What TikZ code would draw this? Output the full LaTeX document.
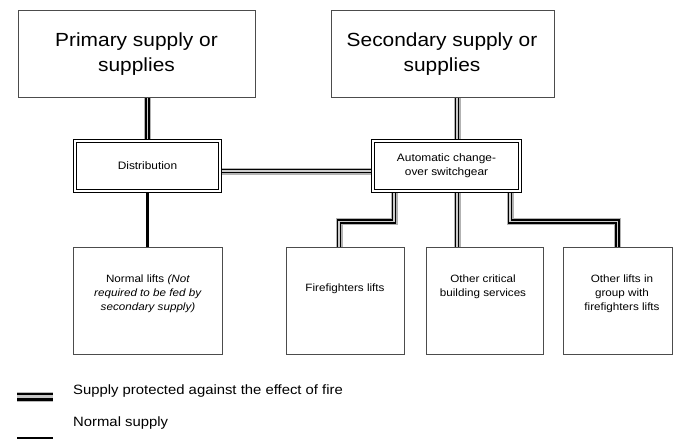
\documentclass[tikz,border=0pt]{standalone}
\usepackage{fontspec}
\setmainfont{Liberation Sans}[FakeStretch=1.1]
\usetikzlibrary{backgrounds}
\begin{document}
\begin{tikzpicture}[x=1pt,y=-1pt,
  box/.style={draw=black!70, line width=0.9pt, fill=white, inner sep=0pt},
  dbox/.style={draw=black, double=white, double distance=1.6pt, line width=1.1pt, fill=white, inner sep=0pt, align=center, font=\fontsize{10.8}{14}\selectfont},
  bigtext/.style={align=center, font=\fontsize{19}{25}\selectfont},
  smalltext/.style={align=center, font=\fontsize{10.6}{14.3}\selectfont, anchor=north, inner sep=0pt},
  legtext/.style={anchor=west, font=\fontsize{13.5}{16}\selectfont, inner sep=0pt},
  protected/.style={line width=4.4pt, black, line join=miter,
    preaction={draw, gray!60, line width=7pt},
    postaction={draw, gray!40, line width=1.4pt}},
  legprotected/.style={line width=8pt, black,
    preaction={draw, gray!55, line width=10pt},
    postaction={draw, gray!45, line width=2.2pt}},
  normal/.style={line width=2.2pt, black}]
\useasboundingbox (0,0) rectangle (673,439);

% supplies
\node[box, minimum width=237pt, minimum height=87pt] (prim) at (136.5,53.5) {};
\node[bigtext] (primtxt) at (136.5,54) {Primary supply or\\supplies};
\node[box, minimum width=223pt, minimum height=87pt] (sec) at (442.5,53.5) {};
\node[bigtext] (sectxt) at (442,54) {Secondary supply or\\supplies};

% distribution and switchgear
\node[dbox, minimum width=145pt, minimum height=50pt] (dist) at (147.5,166) {Distribution};
\node[dbox, minimum width=147pt, minimum height=50pt] (auto) at (446.5,166) {Automatic change-\\over switchgear};

% consumers
\node[box, minimum width=149pt, minimum height=107pt] (normlifts) at (147.5,300.5) {};
\node[smalltext] (normtxt) at (148,274.5) {Normal lifts \textit{(Not}\\\textit{required to be fed by}\\\textit{secondary supply)}};
\node[box, minimum width=118pt, minimum height=107pt] (fire) at (345,300.5) {};
\node[smalltext] (firetxt) at (345,283.5) {Firefighters lifts};
\node[box, minimum width=117pt, minimum height=107pt] (crit) at (484.5,300.5) {};
\node[smalltext] (crittxt) at (483,274.5) {Other critical\\building services};
\node[box, minimum width=109pt, minimum height=107pt] (other) at (617.5,300.5) {};
\node[smalltext] (othertxt) at (622,274.5) {Other lifts in\\group with\\firefighters lifts};

% supply routes
\begin{pgfonlayer}{background}
  \draw[protected] (prim.south -| dist.north) -- (dist.north);
  \draw[protected] ([xshift=10.5pt]auto.north |- sec.south) -- ([xshift=10.5pt]auto.north);
  \draw[protected] ([yshift=-5pt]dist.east) -- ([yshift=-5pt]auto.west);
  \draw[protected] ([xshift=-52.5pt]auto.south) |- ++(0,30) -| ([xshift=-6pt]fire.north);
  \draw[protected] ([xshift=10.5pt]auto.south) -- ([xshift=10.5pt]auto.south |- crit.north);
  \draw[protected] ([xshift=63.5pt]auto.south) |- ++(0,30) -| (other.north);
  \draw[normal] (dist.south) -- (normlifts.north);
\end{pgfonlayer}

% legend
\coordinate (lpa) at (17,396.5);
\coordinate (lpb) at (53,396.5);
\draw[legprotected] (lpa) -- (lpb);
\node[legtext] (lptxt) at (73,391.5) {Supply protected against the effect of fire};
\coordinate (lna) at (17,438);
\coordinate (lnb) at (53,438);
\draw[normal] (lna) -- (lnb);
\node[legtext] (lntxt) at (73,423) {Normal supply};
\end{tikzpicture}
\end{document}
